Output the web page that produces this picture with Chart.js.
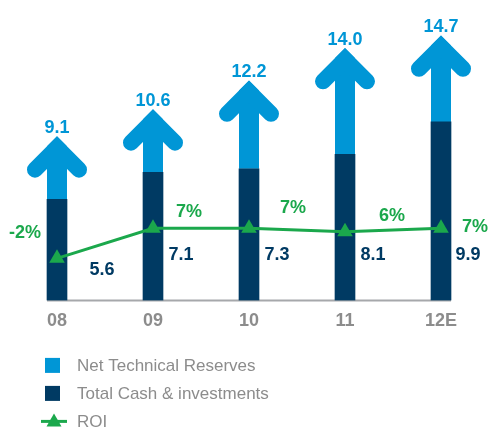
<!DOCTYPE html>
<html>
<head>
<meta charset="utf-8">
<script src="https://cdn.jsdelivr.net/npm/chart.js@4.4.1/dist/chart.umd.min.js"></script>
<style>
  html, body { margin: 0; padding: 0; background: #fff; }
  #wrap { width: 489px; height: 430px; position: relative; }
</style>
</head>
<body>
<div id="wrap"><canvas id="chart"></canvas></div>
<script>
// values
const years = ['08', '09', '10', '11', '12E'];
const cashInvestments = [5.6, 7.1, 7.3, 8.1, 9.9];
const netReserves = [3.5, 3.5, 4.9, 5.9, 4.8];
const roi = [-2, 7, 7, 6, 7];

const NAVY = '#003a63';
const BLUE = '#0096d6';
const GREEN = '#1ba84c';
const GREY = '#8c8c8c';
const FONT = '"Liberation Sans", Arial, sans-serif';

// label nudges (pixels) so the texts sit where the original put them
const cashLabelNudge = [[45, 30], [28, 45], [28, 45], [28, 45], [27, 45]];
const roiLabelNudge = [[-32, -25], [36, -16], [44, -20], [47, -16], [34, -1]];

// arrow head: stroke width and wing length
const HEAD_W = 16, HEAD_D = 22;

const arrowPlugin = {
  id: 'arrows',
  beforeDatasetDraw(chart, args) {
    if (args.index !== 1) return;
    const ctx = chart.ctx;
    ctx.save();
    ctx.beginPath();
    args.meta.data.forEach(bar => {
      const h = bar.width / 2;
      ctx.moveTo(bar.x - h, bar.base);
      ctx.lineTo(bar.x - h, bar.y + h);
      ctx.lineTo(bar.x, bar.y);
      ctx.lineTo(bar.x + h, bar.y + h);
      ctx.lineTo(bar.x + h, bar.base);
      ctx.closePath();
    });
    ctx.clip();
  },
  afterDatasetDraw(chart, args) {
    if (args.index !== 1) return;
    const ctx = chart.ctx;
    ctx.restore();
    ctx.save();
    ctx.strokeStyle = BLUE;
    ctx.lineWidth = HEAD_W;
    ctx.lineJoin = 'miter';
    ctx.lineCap = 'round';
    args.meta.data.forEach(bar => {
      const vy = bar.y + HEAD_W / 2 * Math.SQRT2;
      ctx.beginPath();
      ctx.moveTo(bar.x - HEAD_D, vy + HEAD_D);
      ctx.lineTo(bar.x, vy);
      ctx.lineTo(bar.x + HEAD_D, vy + HEAD_D);
      ctx.stroke();
    });
    ctx.restore();
  },
  beforeDatasetsDraw(chart) {
    // baseline from first bar to last bar
    const bars = chart.getDatasetMeta(0).data;
    const ctx = chart.ctx;
    const first = bars[0], last = bars[bars.length - 1];
    ctx.save();
    ctx.strokeStyle = '#a6a8ab';
    ctx.lineWidth = 2;
    ctx.beginPath();
    ctx.moveTo(first.x - first.width / 2, chart.chartArea.bottom);
    ctx.lineTo(last.x + last.width / 2, chart.chartArea.bottom);
    ctx.stroke();
    ctx.restore();
  },
  afterDatasetsDraw(chart) {
    const ctx = chart.ctx;
    const area = chart.chartArea;
    const cashBars = chart.getDatasetMeta(0).data;
    const topBars = chart.getDatasetMeta(1).data;
    const points = chart.getDatasetMeta(2).data;
    ctx.save();
    ctx.font = 'bold 18px ' + FONT;
    ctx.textAlign = 'center';

    // totals above the arrows
    ctx.fillStyle = BLUE;
    ctx.textBaseline = 'alphabetic';
    topBars.forEach((bar, i) => {
      const total = cashInvestments[i] + netReserves[i];
      ctx.fillText(total.toFixed(1), bar.x, bar.y - 3);
    });

    // cash values beside the bars
    ctx.fillStyle = NAVY;
    ctx.textBaseline = 'middle';
    cashBars.forEach((bar, i) => {
      const [dx, dy] = cashLabelNudge[i];
      ctx.fillText(cashInvestments[i].toFixed(1), bar.x + dx, area.bottom - dy);
    });

    // ROI labels
    ctx.fillStyle = GREEN;
    points.forEach((pt, i) => {
      const [dx, dy] = roiLabelNudge[i];
      ctx.fillText(roi[i] + '%', pt.x + dx, pt.y + dy);
    });
    ctx.restore();
  },
  afterDraw(chart) {
    // legend, one item per row
    const ctx = chart.ctx;
    const y0 = chart.chartArea.bottom + 65;
    const rows = [
      { label: chart.data.datasets[1].label, color: BLUE, kind: 'box' },
      { label: chart.data.datasets[0].label, color: NAVY, kind: 'box' },
      { label: chart.data.datasets[2].label, color: GREEN, kind: 'line' }
    ];
    ctx.save();
    ctx.font = '17px ' + FONT;
    ctx.textBaseline = 'middle';
    ctx.textAlign = 'left';
    rows.forEach((r, i) => {
      const y = y0 + i * 28;
      ctx.fillStyle = r.color;
      if (r.kind === 'box') {
        ctx.fillRect(45, y - 7.5, 15, 15);
      } else {
        ctx.strokeStyle = r.color;
        ctx.lineWidth = 3;
        ctx.beginPath();
        ctx.moveTo(41, y);
        ctx.lineTo(67, y);
        ctx.stroke();
        ctx.beginPath();
        ctx.moveTo(54, y - 8);
        ctx.lineTo(61.5, y + 5);
        ctx.lineTo(46.5, y + 5);
        ctx.closePath();
        ctx.fill();
      }
      ctx.fillStyle = GREY;
      ctx.fillText(r.label, 77, y + 1);
    });
    ctx.restore();
  }
};

new Chart(document.getElementById('chart'), {
  type: 'bar',
  data: {
    labels: years,
    datasets: [
      {
        label: 'Total Cash & investments',
        data: cashInvestments,
        backgroundColor: NAVY,
        barThickness: 20,
        order: 1
      },
      {
        label: 'Net Technical Reserves',
        data: netReserves,
        backgroundColor: BLUE,
        barThickness: 20,
        order: 1
      },
      {
        type: 'line',
        label: 'ROI',
        data: roi,
        yAxisID: 'y1',
        borderColor: GREEN,
        borderWidth: 3,
        backgroundColor: GREEN,
        pointStyle: 'triangle',
        pointRadius: 9,
        pointBorderWidth: 0,
        pointBackgroundColor: GREEN,
        tension: 0,
        order: 0
      }
    ]
  },
  options: {
    responsive: true,
    maintainAspectRatio: false,
    animation: false,
    layout: { autoPadding: false, padding: { top: 30, left: 9, right: 0, bottom: 88 } },
    plugins: {
      legend: { display: false },
      tooltip: { enabled: false }
    },
    scales: {
      x: {
        stacked: true,
        grid: { display: false, drawTicks: false },
        border: { display: false },
        ticks: {
          color: GREY,
          padding: 10,
          font: { family: FONT, size: 18, weight: 'bold' }
        }
      },
      y: {
        stacked: true,
        display: false,
        min: 0,
        max: 15
      },
      y1: {
        display: false,
        min: -14.6,
        max: 66.4
      }
    }
  },
  plugins: [arrowPlugin]
});
</script>
</body>
</html>
